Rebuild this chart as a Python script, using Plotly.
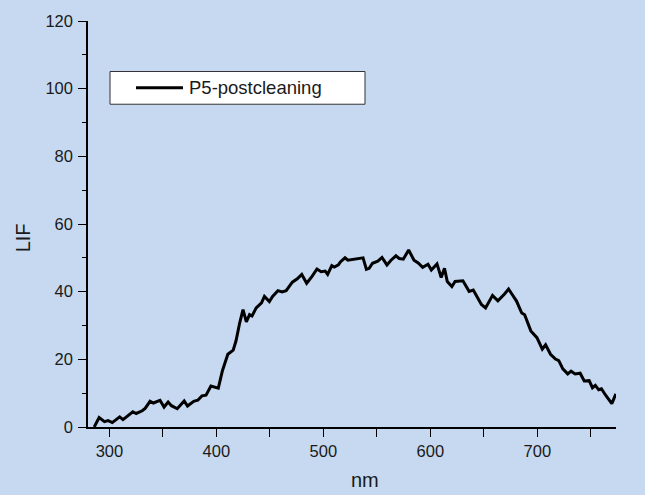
import plotly.graph_objects as go

wavelength_nm = [285.8, 290.4, 295.4, 298.8, 302.7, 309.6, 312.7, 321.9, 325.0, 330.7,
                 333.4, 338.0, 341.1, 347.3, 351.1, 354.9, 358.0, 363.4, 369.9, 373.0,
                 378.8, 382.6, 386.5, 390.3, 394.9, 398.0, 401.8, 405.7, 410.7, 415.7,
                 418.3, 421.8, 424.9, 428.0, 431.0, 433.3, 437.2, 442.2, 444.9, 449.5,
                 452.5, 457.5, 461.4, 465.2, 471.0, 475.6, 479.8, 484.4, 489.4, 494.0,
                 497.9, 501.7, 504.0, 507.9, 510.2, 514.0, 515.9, 520.2, 522.9, 537.1,
                 540.2, 542.8, 545.9, 550.9, 554.8, 559.4, 563.2, 567.8, 570.9, 574.7,
                 579.7, 584.7, 588.6, 592.8, 597.8, 600.9, 606.2, 610.1, 613.2, 615.8,
                 620.1, 623.1, 630.4, 636.2, 640.1, 647.7, 651.6, 658.1, 663.1, 669.3,
                 673.1, 676.6, 680.4, 685.4, 688.1, 693.9, 699.6, 704.6, 707.7, 712.3,
                 716.9, 720.0, 723.8, 728.4, 731.5, 735.3, 740.0, 743.8, 748.4, 751.5,
                 754.2, 757.3, 759.9, 763.8, 769.6, 773.4]
lif_values = [0.0, 2.8, 1.6, 1.9, 1.3, 3.0, 2.2, 4.5, 4.0, 4.8,
              5.5, 7.6, 7.1, 7.9, 5.9, 7.4, 6.3, 5.4, 7.7, 6.2,
              7.6, 7.9, 9.2, 9.4, 12.1, 11.8, 11.5, 16.7, 21.5, 22.7,
              25.4, 30.8, 34.7, 31.1, 33.2, 32.8, 35.2, 36.7, 38.6, 37.1,
              38.6, 40.3, 39.9, 40.3, 42.8, 43.8, 45.1, 42.5, 44.5, 46.7,
              45.9, 46.1, 45.1, 47.7, 47.3, 47.9, 48.8, 50.0, 49.3, 50.0,
              46.6, 46.9, 48.4, 49.0, 50.1, 47.9, 49.3, 50.6, 49.8, 49.6,
              52.3, 49.3, 48.5, 47.2, 48.1, 46.4, 48.2, 44.2, 46.9, 43.0,
              41.5, 43.0, 43.2, 40.1, 40.5, 36.2, 35.2, 38.9, 37.3, 39.3,
              40.8, 39.1, 37.3, 33.7, 33.2, 28.4, 26.4, 23.0, 24.3, 21.5,
              20.1, 19.6, 17.2, 15.7, 16.5, 15.7, 15.9, 13.6, 13.7, 11.6,
              12.3, 11.0, 11.3, 9.4, 6.9, 9.8]

series_name = "P5-postcleaning"
x_title = "nm"
y_title = "LIF"
x_ticks = [300, 400, 500, 600, 700]
y_ticks = [0, 20, 40, 60, 80, 100, 120]

BG = "#C6D9F0"
FONT = "Arial, Liberation Sans, sans-serif"

fig = go.Figure()
fig.add_trace(go.Scatter(x=wavelength_nm, y=lif_values, mode="lines",
                         name=series_name, showlegend=False,
                         line=dict(color="black", width=3)))

fig.update_layout(
    width=645, height=495, autosize=False,
    margin=dict(l=88, r=29, t=17, b=68),
    paper_bgcolor=BG, plot_bgcolor=BG,
    font=dict(family=FONT, size=16, color="#1a1a1a"),
)
fig.update_xaxes(range=[280, 773.5], tickvals=x_ticks, showgrid=False, zeroline=False,
                 showline=True, linecolor="black", linewidth=1.5,
                 ticks="outside", ticklen=8, tickwidth=1.2, tickcolor="black",
                 tickfont=dict(size=16.5),
                 minor=dict(dtick=50, ticks="outside", ticklen=8, tickwidth=1.2,
                            tickcolor="black", showgrid=False))
fig.update_yaxes(range=[0, 120], tickvals=y_ticks, showgrid=False, zeroline=False,
                 showline=True, linecolor="black", linewidth=1.5,
                 ticks="outside", ticklen=8, tickwidth=1.2, tickcolor="black",
                 tickfont=dict(size=16.5), ticklabelstandoff=2,
                 minor=dict(dtick=10, ticks="outside", ticklen=4, tickwidth=1.2,
                            tickcolor="black", showgrid=False))

# axis titles
fig.add_annotation(text=x_title, xref="paper", yref="paper", x=0.5246, y=-0.1317,
                   xanchor="center", yanchor="middle", showarrow=False,
                   font=dict(size=20, family=FONT, color="#1a1a1a"))
fig.add_annotation(text=y_title, xref="paper", yref="paper", x=-0.124, y=0.466,
                   xanchor="center", yanchor="middle", showarrow=False, textangle=-90,
                   font=dict(size=20, family=FONT, color="#1a1a1a"))

# legend box
fig.add_shape(type="rect", xref="paper", yref="paper", x0=0.0417, x1=0.5246,
              y0=0.795, y1=0.8756, fillcolor="white",
              line=dict(color="#333333", width=1))
fig.add_shape(type="line", xref="paper", yref="paper", x0=0.0909, x1=0.1799,
              y0=0.8354, y1=0.8354, line=dict(color="black", width=3))
fig.add_annotation(text=series_name, xref="paper", yref="paper", x=0.1875, y=0.8354,
                   xanchor="left", yanchor="middle", showarrow=False,
                   font=dict(size=18.5, family=FONT, color="#1a1a1a"))

fig.write_html("out.html", config={"displayModeBar": False},
               post_script="document.body.style.margin='0';document.body.style.background='%s';" % BG)
